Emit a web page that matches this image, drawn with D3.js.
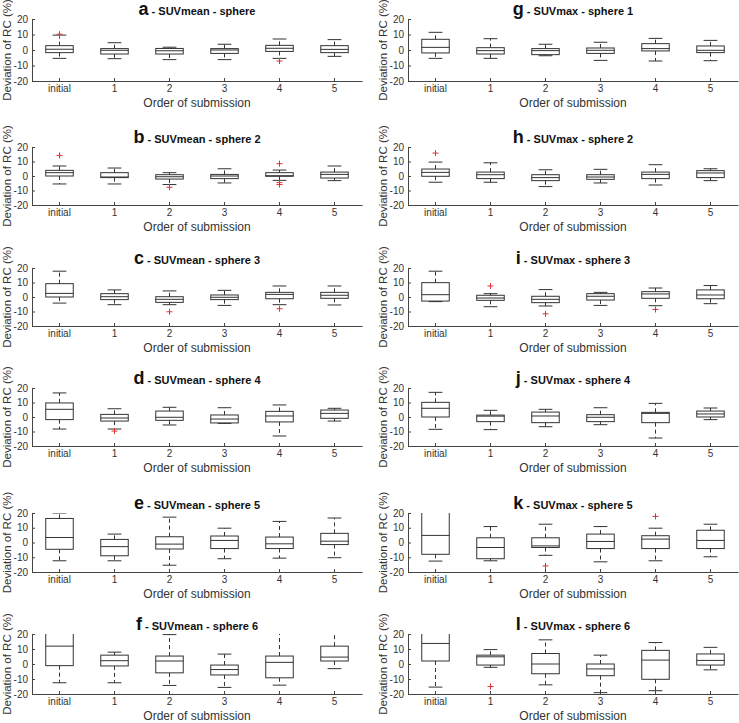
<!DOCTYPE html>
<html>
<head>
<meta charset="utf-8">
<script src="https://cdn.jsdelivr.net/npm/d3@7"></script>
<style>
  html, body { margin: 0; padding: 0; background: #fff; }
  svg { display: block; font-family: "Liberation Sans", Arial, Helvetica, sans-serif; }
</style>
</head>
<body>
<svg id="chart" width="739" height="723"></svg>
<script>
// ---------------- DATA ----------------
const categories = ["initial", "1", "2", "3", "4", "5"];
const yTicks = [-20, -10, 0, 10, 20];
const panelLetters = ["a", "b", "c", "d", "e", "f", "g", "h", "i", "j", "k", "l"];
const panelSubtitles = [
  " - SUVmean - sphere", " - SUVmean - sphere 2", " - SUVmean - sphere 3",
  " - SUVmean - sphere 4", " - SUVmean - sphere 5", " - SUVmean - sphere 6",
  " - SUVmax - sphere 1", " - SUVmax - sphere 2", " - SUVmax - sphere 3",
  " - SUVmax - sphere 4", " - SUVmax - sphere 5", " - SUVmax - sphere 6"
];
// each entry: [lower whisker, Q1, median, Q3, upper whisker]
const statsA = [[-5.4,-1.7,0.5,2.8,9.6],[-5.6,-2.6,-0.2,0.9,4.7],[-6.2,-2.6,-0.5,1.0,1.8],[-6.2,-2.2,0.0,0.9,3.7],[-5.4,-0.9,1.1,3.0,7.1],[-4.1,-1.7,0.4,2.8,6.7]];
const outA = [[10.2],[],[],[],[-7.1],[]];
const statsB = [[-5.5,0.0,2.3,3.9,6.9],[-5.5,-1.1,-0.7,2.3,5.5],[-5.9,-2.1,-0.5,0.9,2.3],[-4.8,-1.8,0.0,1.1,5.0],[-3.0,-0.2,0.2,2.3,4.1],[-3.2,-1.4,1.1,2.7,6.9]];
const outB = [[14.2],[],[-7.8],[],[8.5,-4.6,-5.9],[]];
const statsC = [[-4.2,0.0,2.5,9.2,17.8],[-5.3,-1.8,0.2,2.3,4.9],[-5.3,-3.7,-1.6,0.2,4.2],[-5.8,-1.8,-0.2,1.4,4.6],[-5.3,-1.2,1.8,3.2,7.6],[-5.5,-0.9,1.2,3.2,7.6]];
const outC = [[],[],[-10.2],[],[-8.1],[]];
const statsD = [[-8.3,-1.8,5.3,9.7,16.6],[-8.3,-2.8,-0.7,1.8,5.7],[-5.5,-2.3,-0.2,4.1,6.7],[-4.4,-4.1,-1.4,1.4,6.4],[-13.1,-3.4,0.7,3.9,8.3],[-2.8,-0.9,2.5,4.8,6.0]];
const outD = [[],[-9.7],[],[],[],[]];
const statsE = [[-12.4,-4.6,3.4,16.3,20.0],[-12.4,-9.0,-2.8,2.1,5.7],[-15.4,-4.4,-1.1,3.9,17.2],[-11.0,-4.1,1.4,4.4,9.7],[-10.6,-4.1,-0.9,3.7,14.3],[-10.3,-1.4,0.9,6.2,16.6]];
const outE = [[],[],[],[],[],[]];
const statsF = [[-12.5,-1.1,11.9,25.0,35.0],[-12.5,-1.3,2.2,5.9,7.9],[-14.3,-5.9,2.0,5.3,19.6],[-15.6,-7.3,-3.7,-0.7,6.6],[-14.1,-9.2,1.1,5.3,22.0],[-3.1,2.0,4.6,11.9,22.0]];
const outF = [[],[],[],[],[],[]];
const statsG = [[-5.4,-1.9,1.7,6.9,11.4],[-5.4,-2.6,-0.4,1.5,7.3],[-3.7,-3.0,-0.4,0.9,3.7],[-6.7,-2.2,-0.2,1.3,5.0],[-7.1,-0.6,0.9,4.1,7.5],[-6.9,-1.7,-0.2,2.6,6.2]];
const outG = [[],[],[],[],[],[]];
const statsH = [[-4.3,-0.2,2.5,4.8,9.6],[-4.3,-1.8,0.9,2.7,9.1],[-7.3,-3.2,-1.1,0.9,4.3],[-4.8,-2.3,-0.7,0.9,4.6],[-6.2,-1.8,1.1,2.7,7.8],[-3.2,-1.1,2.1,3.7,5.0]];
const outH = [[15.8],[],[],[],[],[]];
const statsI = [[-3.2,-2.8,1.6,9.9,17.8],[-6.7,-2.3,-0.7,1.2,2.3],[-6.2,-3.9,-1.6,0.5,5.1],[-5.8,-2.1,0.5,2.3,3.2],[-6.0,-0.9,2.1,3.7,6.2],[-4.6,-1.2,1.4,4.9,7.9]];
const outI = [[],[7.6],[-11.6],[],[-8.6],[]];
const statsJ = [[-8.5,0.0,6.0,10.1,17.0],[-8.7,-3.2,0.6,1.3,4.6],[-6.7,-3.9,0.7,3.4,5.3],[-5.3,-3.2,-0.2,1.6,6.4],[-14.5,-3.9,2.5,3.2,9.4],[-1.8,0.0,2.1,4.1,6.2]];
const outJ = [[],[],[],[],[],[]];
const statsK = [[-12.6,-8.0,4.8,22.0,30.0],[-12.4,-11.0,-3.4,3.2,10.8],[-8.7,-3.4,-2.3,3.2,12.4],[-13.1,-4.1,0.7,5.7,10.8],[-12.4,-4.1,2.3,4.6,9.7],[-9.7,-4.1,1.4,8.3,12.4]];
const outK = [[],[],[-15.9],[],[17.7],[]];
const statsL = [[-15.4,2.0,13.7,25.0,35.0],[-2.2,-0.7,4.8,5.9,9.6],[-13.9,-6.5,0.0,7.0,16.1],[-19.1,-7.8,-3.3,0.0,5.9],[-17.8,-10.2,2.6,9.1,14.3],[-3.9,-0.7,2.4,6.7,11.1]];
const outL = [[],[-15.0],[],[],[],[]];

const allStats = [statsA, statsB, statsC, statsD, statsE, statsF, statsG, statsH, statsI, statsJ, statsK, statsL];
const allOut = [outA, outB, outC, outD, outE, outF, outG, outH, outI, outJ, outK, outL];

// ---------------- LAYOUT ----------------
const colX = [[32, 362], [408, 738]];
const rowTop = [19, 147, 268, 388, 513, 634];
const rowBot = [81, 205, 326, 446, 572, 694];
const ink = "#333";
const fontStack = '"Liberation Sans", Arial, Helvetica, sans-serif';

const svg = d3.select("#chart");

allStats.forEach((stats, pi) => {
  const col = Math.floor(pi / 6), row = pi % 6;
  const [x0, x1] = colX[col];
  const top = rowTop[row], bot = rowBot[row];

  const x = d3.scaleBand().domain(categories).range([x0, x1]).padding(0);
  const y = d3.scaleLinear().domain([-20, 20]).range([bot, top]);
  const bw = x.bandwidth();
  const cx = c => x(c) + bw / 2;

  const g = svg.append("g");
  const clipId = "clip" + pi;
  g.append("clipPath").attr("id", clipId)
    .append("rect").attr("x", x0).attr("y", top).attr("width", x1 - x0).attr("height", bot - top);

  // axes
  const yAxis = d3.axisLeft(y).tickValues(yTicks).tickSizeInner(-3).tickSizeOuter(0).tickPadding(4)
    .tickFormat(d => String(d));
  const gy = g.append("g").attr("transform", `translate(${x0},0)`).call(yAxis);
  const xAxis = d3.axisBottom(x).tickSizeInner(-3).tickSizeOuter(0).tickPadding(4);
  const gx = g.append("g").attr("transform", `translate(0,${bot})`).call(xAxis);
  [gy, gx].forEach(ax => {
    ax.selectAll("path.domain").attr("stroke", "#444").attr("stroke-width", 1);
    ax.selectAll(".tick line").attr("stroke", "#444");
    ax.selectAll(".tick text").attr("fill", ink).style("font-size", "10px").style("font-family", fontStack);
  });

  // labels
  g.append("text")
    .attr("transform", `translate(${x0 - 21},${(top + bot) / 2}) rotate(-90)`)
    .attr("text-anchor", "middle").attr("fill", ink)
    .style("font-size", "11.5px").style("font-family", fontStack)
    .text("Deviation of RC (%)");
  g.append("text")
    .attr("x", (x0 + x1) / 2).attr("y", bot + 26)
    .attr("text-anchor", "middle").attr("fill", ink)
    .style("font-size", "12px").style("font-family", fontStack)
    .text("Order of submission");
  const t = g.append("text")
    .attr("x", (x0 + x1) / 2).attr("y", top - 4)
    .attr("text-anchor", "middle").attr("fill", "#111")
    .style("font-family", fontStack).style("font-weight", "bold");
  t.append("tspan").style("font-size", "18px").text(panelLetters[pi]);
  t.append("tspan").style("font-size", "11px").text(panelSubtitles[pi]);

  // boxes
  const plot = g.append("g").attr("clip-path", `url(#${clipId})`);
  const boxW = bw * 0.5, capW = bw * 0.25;
  stats.forEach((s, i) => {
    const c = categories[i];
    const xc = cx(c);
    const [lo, q1, med, q3, hi] = s;
    const bg = plot.append("g").attr("stroke", ink).attr("fill", "none").attr("stroke-width", 1);
    // whiskers (dashed)
    bg.append("line").attr("x1", xc).attr("x2", xc).attr("y1", y(q3)).attr("y2", y(hi)).attr("stroke-dasharray", "4,3");
    bg.append("line").attr("x1", xc).attr("x2", xc).attr("y1", y(q1)).attr("y2", y(lo)).attr("stroke-dasharray", "4,3");
    // caps
    bg.append("line").attr("x1", xc - capW / 2).attr("x2", xc + capW / 2).attr("y1", y(hi)).attr("y2", y(hi));
    bg.append("line").attr("x1", xc - capW / 2).attr("x2", xc + capW / 2).attr("y1", y(lo)).attr("y2", y(lo));
    // box
    bg.append("rect").attr("x", xc - boxW / 2).attr("width", boxW)
      .attr("y", y(q3)).attr("height", y(q1) - y(q3));
    // median
    bg.append("line").attr("x1", xc - boxW / 2).attr("x2", xc + boxW / 2).attr("y1", y(med)).attr("y2", y(med));
    // outliers
    allOut[pi][i].forEach(v => {
      const oy = y(v), r = 3;
      plot.append("path")
        .attr("d", `M${xc - r},${oy}H${xc + r}M${xc},${oy - r}V${oy + r}`)
        .attr("stroke", "#e0303a").attr("stroke-width", 1).attr("fill", "none");
    });
  });
});
</script>
</body>
</html>
